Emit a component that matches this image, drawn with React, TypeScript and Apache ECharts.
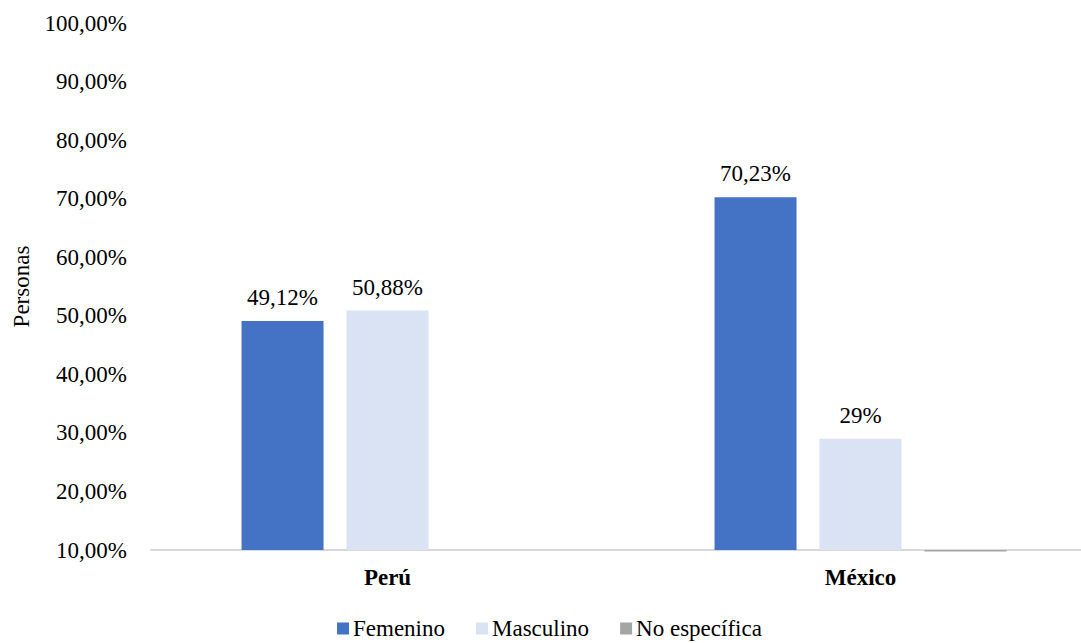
import React, { useEffect, useRef } from "react";
import * as echarts from "echarts";

const categories = ["Perú", "México"];
const seriesNames = ["Femenino", "Masculino", "No específica"];
const femenino = [49.12, 70.23];
const masculino = [50.88, 29];
// "No específica" bar for México lies just below the 10% axis line: it runs from 9.75% up to 10%
const noEspecificaBase = [null, 9.75];
const noEspecifica = [null, 0.25];
const femeninoLabels = ["49,12%", "70,23%"];
const masculinoLabels = ["50,88%", "29%"];
const yTicks = [10, 20, 30, 40, 50, 60, 70, 80, 90, 100];
const colors = ["#4472C4", "#DAE3F3", "#A5A5A5"];

const FONT = "Times New Roman, Liberation Serif, serif";
const FS = 23;

export default function App() {
  const ref = useRef<HTMLDivElement>(null);
  useEffect(() => {
    const chart = echarts.init(ref.current!, null, { renderer: "svg" });
    const labelStyle = (labels: string[]) => ({
      show: true,
      position: "top",
      distance: 12,
      fontFamily: FONT,
      fontSize: FS,
      color: "#000",
      formatter: (p: any) => labels[p.dataIndex],
    });
    chart.setOption({
      animation: false,
      textStyle: { fontFamily: FONT },
      grid: { left: 151, top: 23, bottom: 93, width: 946 },
      legend: {
        data: seriesNames,
        bottom: -2,
        left: 332,
        icon: "rect",
        itemWidth: 12,
        itemHeight: 12,
        itemGap: 31,
        textStyle: { fontFamily: FONT, fontSize: FS, color: "#000", padding: [0, 0, 0, -1] },
      },
      xAxis: {
        type: "category",
        data: categories,
        axisLine: { lineStyle: { color: "#D9D9D9", width: 2 } },
        axisTick: { show: false },
        axisLabel: {
          fontFamily: FONT,
          fontSize: FS,
          fontWeight: "bold",
          color: "#000",
          margin: 16,
        },
      },
      yAxis: {
        type: "value",
        min: yTicks[0],
        max: yTicks[yTicks.length - 1],
        interval: 10,
        name: "Personas",
        nameLocation: "middle",
        nameGap: 118,
        nameRotate: 90,
        nameTextStyle: { fontFamily: FONT, fontSize: FS, color: "#000" },
        splitLine: { show: false },
        axisLine: { show: false },
        axisTick: { show: false },
        axisLabel: {
          fontFamily: FONT,
          fontSize: FS,
          color: "#000",
          margin: 24,
          formatter: (v: number) => v.toFixed(2).replace(".", ",") + "%",
        },
      },
      series: [
        {
          name: seriesNames[0],
          type: "bar",
          data: femenino,
          barWidth: 82,
          barGap: "28%",
          itemStyle: { color: colors[0] },
          label: labelStyle(femeninoLabels),
        },
        {
          name: seriesNames[1],
          type: "bar",
          data: masculino,
          barWidth: 82,
          barGap: "28%",
          itemStyle: { color: colors[1] },
          label: labelStyle(masculinoLabels),
        },
        {
          name: "base",
          type: "bar",
          stack: "ne",
          data: noEspecificaBase,
          barWidth: 82,
          barGap: "28%",
          itemStyle: { color: "transparent" },
          silent: true,
        },
        {
          name: seriesNames[2],
          type: "bar",
          stack: "ne",
          data: noEspecifica,
          barWidth: 82,
          barGap: "28%",
          clip: false,
          itemStyle: { color: colors[2] },
        },
      ],
    });
    return () => chart.dispose();
  }, []);
  return (
    <div style={{ position: "absolute", left: 0, top: 0, width: 1081, height: 643, overflow: "hidden" }}>
      <div ref={ref} style={{ width: 1100, height: 643 }} />
    </div>
  );
}
